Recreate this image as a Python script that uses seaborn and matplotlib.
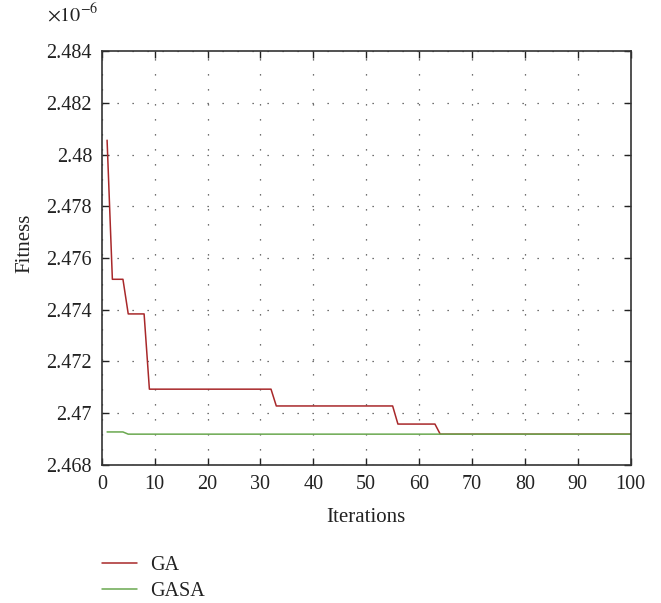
import matplotlib
matplotlib.use("Agg")
import matplotlib.pyplot as plt
import matplotlib.ticker as mticker
import seaborn as sns
import pandas as pd
import numpy as np

# Data (fitness values in units of 1e-6)
iterations = list(range(1, 101))
ga_values = ([2.48056] + [2.47518] * 3 + [2.47384] * 4 + [2.47093] * 24 +
             [2.47028] * 23 + [2.46958] * 8 + [2.46919] * 37)
gasa_values = [2.469275] * 4 + [2.46919] * 96
series_names = ["GA", "GASA"]
x_ticks = [0, 10, 20, 30, 40, 50, 60, 70, 80, 90, 100]
y_ticks = [2.468, 2.470, 2.472, 2.474, 2.476, 2.478, 2.480, 2.482, 2.484]

df = pd.DataFrame({
    "Iterations": iterations * 2,
    "Fitness": ga_values + gasa_values,
    "Algorithm": [series_names[0]] * len(ga_values) + [series_names[1]] * len(gasa_values),
})

sns.set_theme(style="white")
plt.rcParams["font.family"] = ["Liberation Serif", "DejaVu Serif"]
plt.rcParams["mathtext.fontset"] = "stix"

FS = 14.5
fig = plt.figure(figsize=(6.61, 6.03), dpi=100)
ax = fig.add_axes([0.154, 0.229, 0.800, 0.686])

palette = {"GA": "#a8282a", "GASA": "#6aa84f"}
sns.lineplot(data=df, x="Iterations", y="Fitness", hue="Algorithm",
             palette=palette, linewidth=1.1, ax=ax, legend=False)

ax.set_xlim(0, 100)
ax.set_ylim(2.468, 2.484)
ax.set_xticks(x_ticks)
ax.set_yticks(y_ticks)
ax.yaxis.set_major_formatter(mticker.FuncFormatter(lambda v, p: f"{v:g}"))
ax.xaxis.set_major_formatter(mticker.FuncFormatter(lambda v, p: f"{v:g}"))

ax.grid(True, linestyle=(0, (1, 11)), color="#444444", linewidth=0.9)
for s in ax.spines.values():
    s.set_color("#333333")
    s.set_linewidth(1.2)
ax.tick_params(direction="in", length=5, width=1.0, color="#222222",
               top=True, right=True, bottom=True, left=True,
               labelsize=FS, labelcolor="#222222", pad=7)

ax.set_xlabel("Iterations", fontsize=FS + 0.5, color="#222222")
ax.set_ylabel("Fitness", fontsize=FS + 0.5, color="#222222")
ax.xaxis.set_label_coords(0.5, -0.105)
ax.yaxis.set_label_coords(-0.128, 0.535)

fig.text(0.071, 0.975, r"$\times10^{-6}$", fontsize=FS, color="#222222",
         ha="left", va="center")

handles = [plt.Line2D([], [], color=palette[n], linewidth=1.1) for n in series_names]
fig.legend(handles, series_names, loc="upper left", bbox_to_anchor=(0.154, 0.078),
           frameon=False, fontsize=FS, handlelength=1.75, handletextpad=0.65,
           labelspacing=0.35, borderaxespad=0, borderpad=0)
for t in fig.legends[0].get_texts():
    t.set_color("#222222")

fig.savefig("out.png", dpi=100)
